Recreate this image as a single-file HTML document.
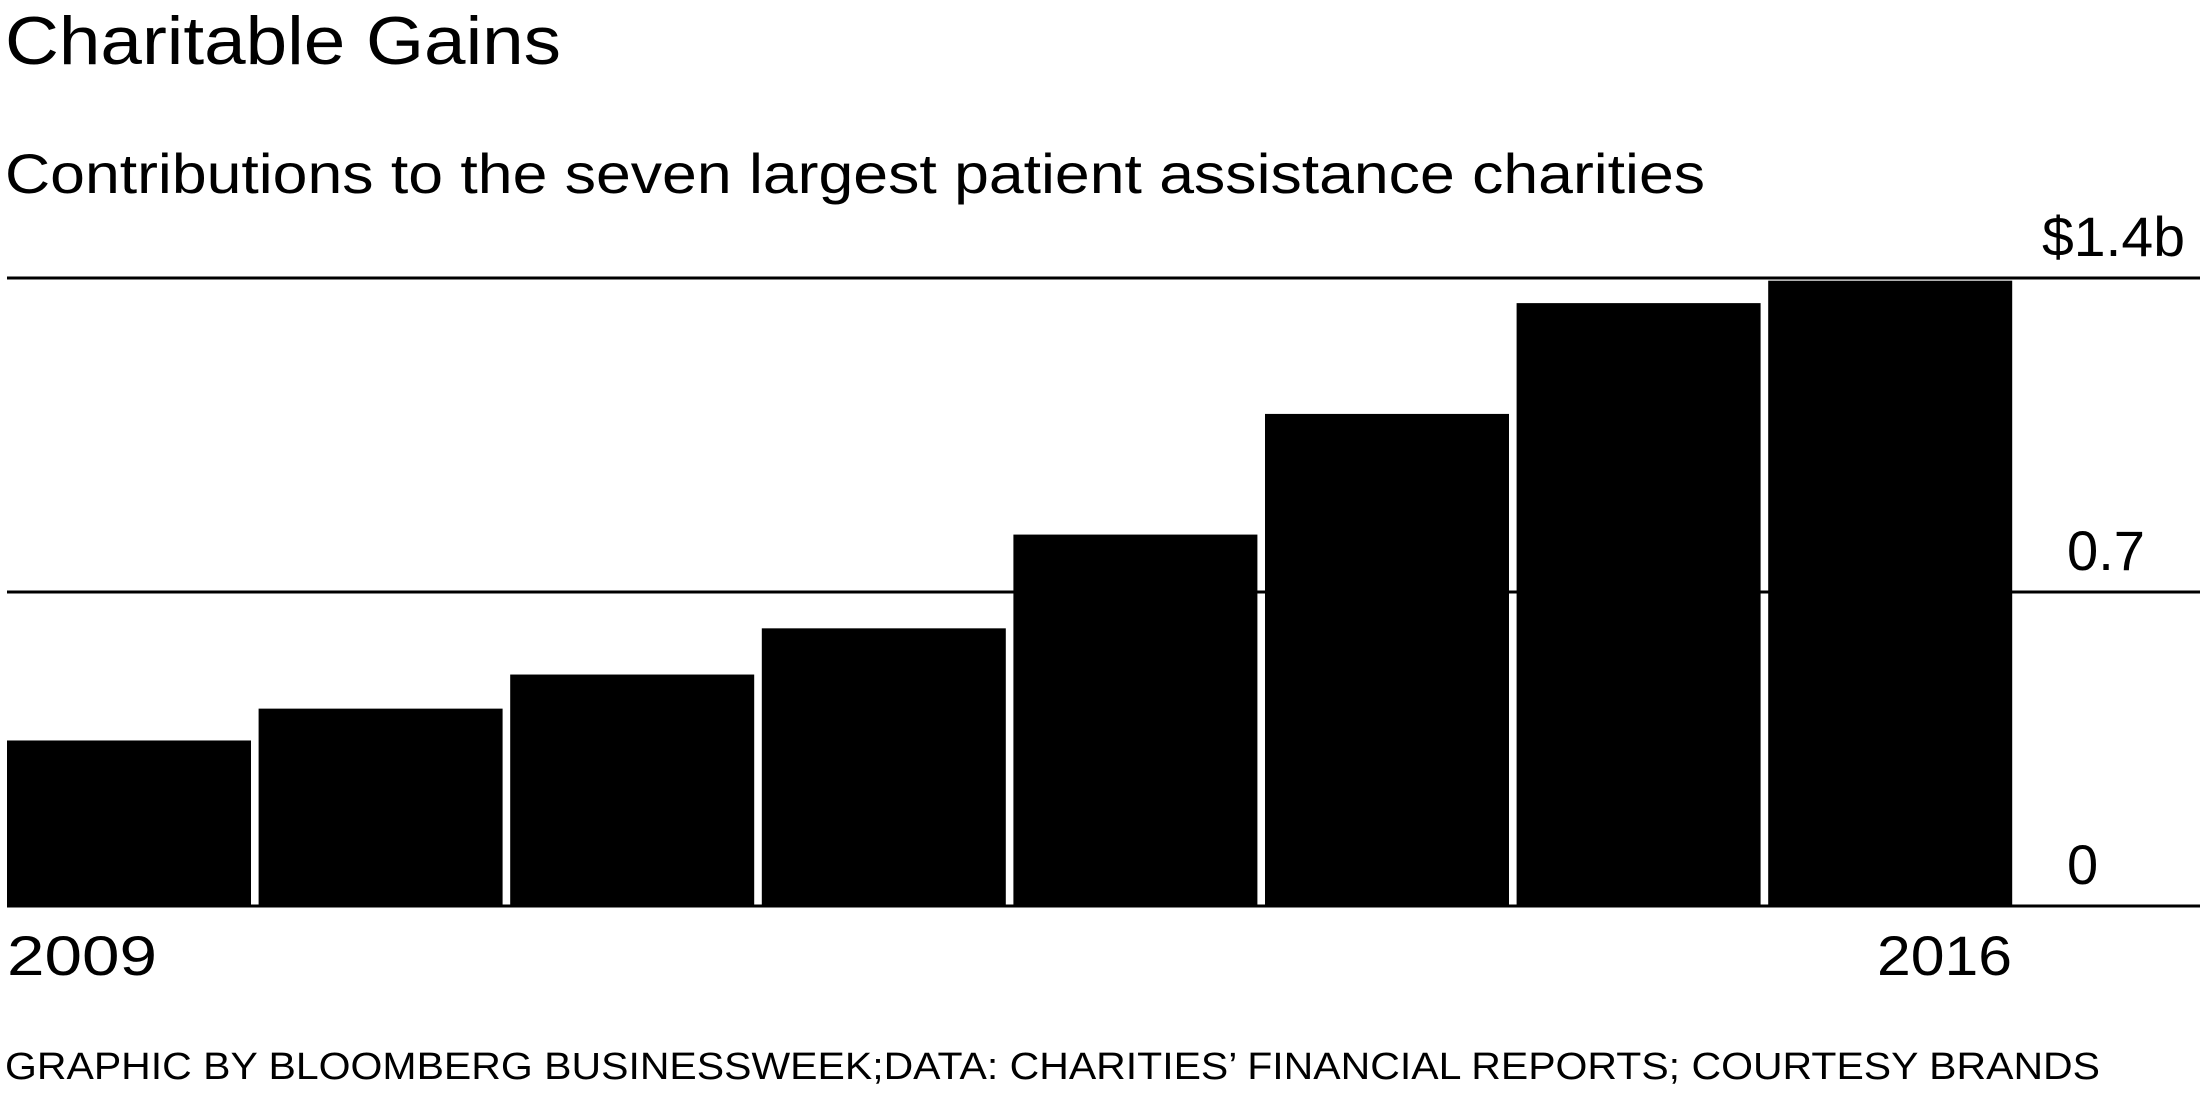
<!DOCTYPE html>
<html><head><meta charset="utf-8"><style>
html,body{margin:0;padding:0;background:#fff;}
svg{display:block;font-family:"Liberation Sans",sans-serif;}
</style></head><body>
<svg id="chart" width="2200" height="1100" viewBox="0 0 2200 1100" xmlns="http://www.w3.org/2000/svg">
<text x="5" y="64" font-size="68" textLength="556" lengthAdjust="spacingAndGlyphs" fill="#000">Charitable Gains</text>
<text x="5" y="193" font-size="56" textLength="1700" lengthAdjust="spacingAndGlyphs" fill="#000">Contributions to the seven largest patient assistance charities</text>
<g id="grid"></g>
<g id="bars"></g>
<g id="yticks"></g>
<text x="7" y="975" font-size="56" textLength="150" lengthAdjust="spacingAndGlyphs">2009</text>
<text x="2012" y="975" font-size="56" text-anchor="end" textLength="135" lengthAdjust="spacingAndGlyphs">2016</text>
<text x="5" y="1079" font-size="38" textLength="2095" lengthAdjust="spacingAndGlyphs">GRAPHIC BY BLOOMBERG BUSINESSWEEK;DATA: CHARITIES’ FINANCIAL REPORTS; COURTESY BRANDS</text>
</svg>
<script>
const years = [2009,2010,2011,2012,2013,2014,2015,2016];
const values = [0.369,0.44,0.516,0.619,0.828,1.097,1.344,1.394];
const tickValues = [0,0.7,1.4];
const tickLabels = ["0","0.7","$1.4b"];
const NS="http://www.w3.org/2000/svg";
const y0=906, yTop=278, yMax=1.4;
function y(v){return y0-(v/yMax)*(y0-yTop);}
const x0=7, pitch=251.6, bw=244;
function x(i){return x0+i*pitch;}
const grid=document.getElementById('grid');
tickValues.forEach((t,i)=>{
  const l=document.createElementNS(NS,'line');
  
  
  l.setAttribute('x1',7);l.setAttribute('x2',2200);
  l.setAttribute('y1',y(t));l.setAttribute('y2',y(t));
  l.setAttribute('stroke','#000');l.setAttribute('stroke-width',3);
  grid.appendChild(l);
  const tx=document.createElementNS(NS,'text');
  
  
  const last = i===tickValues.length-1;
  tx.setAttribute('x', last ? 2042 : 2067);
  tx.setAttribute('y',y(t)-22);
  tx.setAttribute('font-size','56');
  if(last){tx.setAttribute('textLength','143');tx.setAttribute('lengthAdjust','spacingAndGlyphs');}
  else if(tickLabels[i].length>1){tx.setAttribute('textLength','78');tx.setAttribute('lengthAdjust','spacingAndGlyphs');}
  tx.textContent=tickLabels[i];
  document.getElementById('yticks').appendChild(tx);
});
const bars=document.getElementById('bars');
values.forEach((v,i)=>{
  const r=document.createElementNS(NS,'rect');
  
  
  r.setAttribute('x',x(i));r.setAttribute('width',bw);
  r.setAttribute('y',y(v));r.setAttribute('height',y0-y(v));
  r.setAttribute('fill','#000');
  bars.appendChild(r);
});
</script>
</body></html>
